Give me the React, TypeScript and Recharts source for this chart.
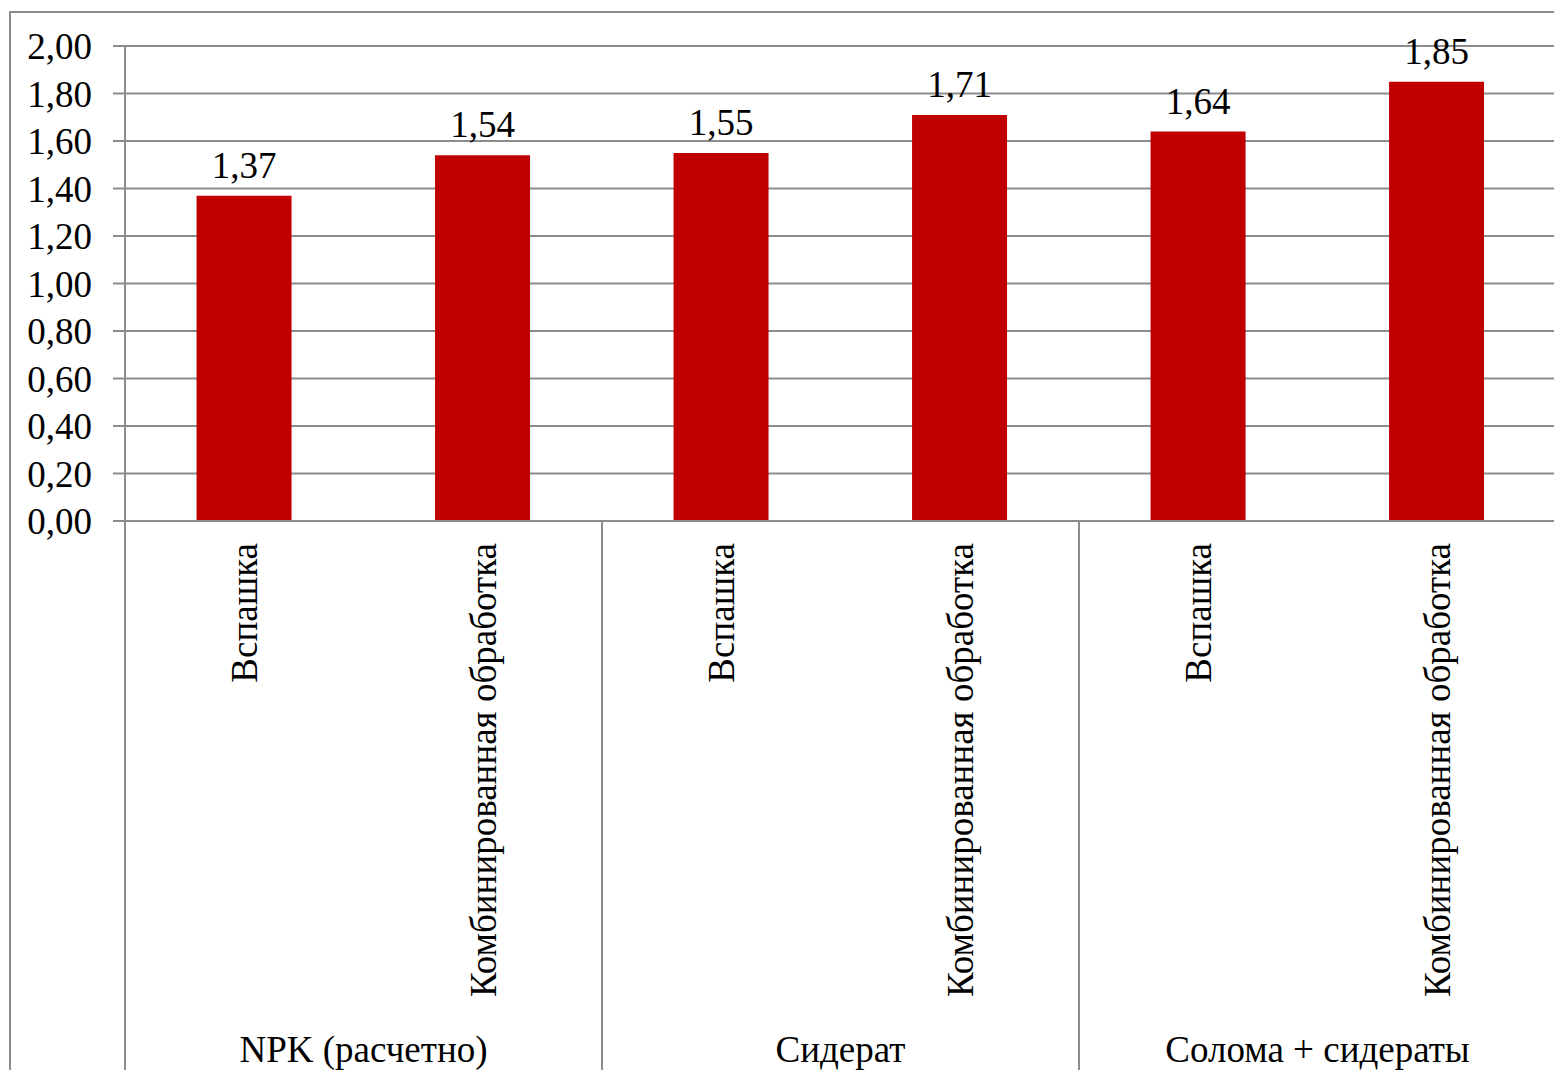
import React from 'react';
import { BarChart, Bar, XAxis, YAxis, CartesianGrid, LabelList } from 'recharts';

// Treatments inside each fertiliser group, groups, and measured values
const groups = ['NPK (расчетно)', 'Сидерат', 'Солома + сидераты'];
const treatments = ['Вспашка', 'Комбинированная обработка'];
const values = [1.37, 1.54, 1.55, 1.71, 1.64, 1.85];
const yTicks = [0, 0.2, 0.4, 0.6, 0.8, 1.0, 1.2, 1.4, 1.6, 1.8, 2.0];

const data = values.map((value, i) => ({
  key: `${groups[Math.floor(i / treatments.length)]}|${treatments[i % treatments.length]}`,
  treatment: treatments[i % treatments.length],
  group: groups[Math.floor(i / treatments.length)],
  value,
}));

const W = 1562;
const H = 1078;
const LEFT = 125;
const RIGHT = 1556;
const TOP = 46;
const BOTTOM = 521;
const SEP_END = 1070;
const BAND = (RIGHT - LEFT) / data.length;

const FONT = '"Liberation Serif", "Times New Roman", serif';
const FONT_SIZE = 37;
const GRID = '#8c8c8c';

const fmt = (v: number) => v.toFixed(2).replace('.', ',');

// Two-level category axis: rotated treatment names, group dividers and group names
const CategoryTick = (props: any) => {
  const { x, index } = props;
  const row = data[index];
  const first = index % treatments.length === 0;
  const last = index === data.length - 1;
  return (
    <g>
      <text
        transform={`translate(${x + 13}, ${BOTTOM + 22}) rotate(-90)`}
        textAnchor="end"
        fontFamily={FONT}
        fontSize={FONT_SIZE}
        fill="#000"
      >
        {row.treatment}
      </text>
      {first && (
        <>
          <line x1={x - BAND / 2} x2={x - BAND / 2} y1={BOTTOM} y2={SEP_END} stroke={GRID} strokeWidth={2} />
          <text
            x={x + BAND / 2}
            y={1062}
            textAnchor="middle"
            fontFamily={FONT}
            fontSize={FONT_SIZE}
            fill="#000"
          >
            {row.group}
          </text>
        </>
      )}
      {last && <line x1={x + BAND / 2} x2={x + BAND / 2} y1={BOTTOM} y2={SEP_END} stroke={GRID} strokeWidth={2} />}
    </g>
  );
};

const ValueLabel = (props: any) => {
  const { x, y, width, value } = props;
  return (
    <text
      x={x + width / 2}
      y={y - 18}
      textAnchor="middle"
      fontFamily={FONT}
      fontSize={FONT_SIZE}
      fill="#000"
    >
      {fmt(value)}
    </text>
  );
};

export default function App() {
  return (
    <div style={{ position: 'relative', width: W, height: H, overflow: 'hidden', background: '#fff', margin: -8 }}>
      <div
        style={{
          position: 'absolute',
          left: 9,
          top: 11,
          width: W,
          height: H,
          border: `2px solid ${GRID}`,
          boxSizing: 'border-box',
        }}
      />
      <div style={{ position: 'absolute', left: 0, top: 0 }}>
        <BarChart
          width={W}
          height={H}
          data={data}
          margin={{ top: TOP, right: W - RIGHT, bottom: 0, left: 0 }}
          barCategoryGap="30%"
        >
          <CartesianGrid vertical={false} stroke={GRID} strokeWidth={2} />
          <YAxis
            width={LEFT}
            domain={[0, 2]}
            ticks={yTicks}
            interval={0}
            tickFormatter={fmt}
            tickSize={12}
            tickMargin={21}
            axisLine={{ stroke: GRID, strokeWidth: 2 }}
            tickLine={{ stroke: GRID, strokeWidth: 2 }}
            tick={{ fontFamily: FONT, fontSize: FONT_SIZE, fill: '#000' }}
          />
          <XAxis
            dataKey="key"
            height={H - BOTTOM}
            interval={0}
            tickLine={false}
            axisLine={{ stroke: GRID, strokeWidth: 2 }}
            tick={<CategoryTick />}
          />
          <Bar dataKey="value" fill="#C00000" isAnimationActive={false}>
            <LabelList dataKey="value" content={<ValueLabel />} />
          </Bar>
        </BarChart>
      </div>
    </div>
  );
}
